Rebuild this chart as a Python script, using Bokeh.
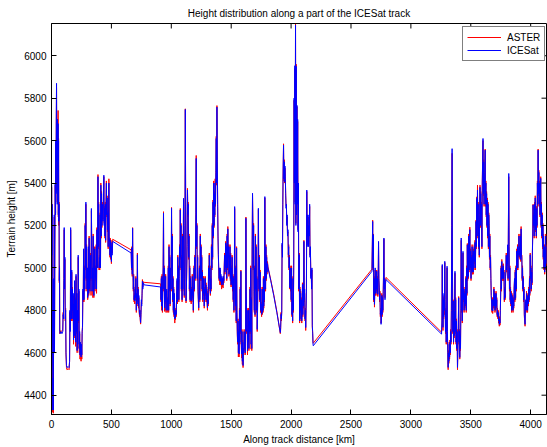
from bokeh.plotting import figure
from bokeh.models import Range1d, FixedTicker, Legend, LegendItem, ColumnDataSource
from bokeh.embed import file_html
from bokeh.resources import INLINE

# ---------------- data ----------------
distance_km = [
    0, 1, 3, 5, 7, 9, 11, 13, 15, 17,
    19, 21, 23, 25, 28, 31, 34, 36, 38, 40,
    42, 44, 46, 48, 50, 53, 55, 57, 59, 61,
    63, 65, 67, 69, 72, 79, 87, 94, 97, 100,
    103, 106, 109, 112, 115, 118, 121, 125, 129, 139,
    147, 151, 154, 157, 160, 163, 166, 169, 172, 175,
    178, 181, 184, 187, 190, 193, 196, 199, 202, 205,
    208, 211, 214, 217, 220, 223, 226, 229, 232, 235,
    238, 241, 244, 247, 250, 253, 256, 259, 262, 265,
    268, 271, 275, 278, 281, 284, 287, 290, 293, 296,
    299, 302, 305, 308, 311, 314, 318, 321, 324, 327,
    330, 333, 336, 339, 342, 345, 348, 351, 354, 357,
    360, 363, 367, 370, 373, 376, 379, 382, 385, 388,
    391, 394, 397, 400, 403, 406, 409, 412, 415, 418,
    421, 424, 427, 430, 433, 437, 440, 443, 446, 449,
    452, 455, 458, 461, 464, 467, 470, 473, 476, 479,
    482, 485, 488, 491, 494, 497, 500, 503, 506, 511,
    665, 668, 671, 674, 677, 680, 683, 686, 689, 692,
    695, 698, 701, 704, 708, 711, 714, 717, 720, 723,
    726, 729, 732, 735, 738, 741, 744, 747, 750, 753,
    756, 759, 762, 767, 773,
    911, 914, 917, 920, 923, 926, 929, 932, 935, 938,
    941, 944, 947, 950, 953, 956, 959, 962, 966, 969,
    972, 975, 978, 981, 984, 987, 990, 993, 996, 999,
    1002, 1005, 1008, 1011, 1014, 1017, 1020, 1023, 1026, 1029,
    1032, 1035, 1038, 1041, 1044, 1048, 1051, 1054, 1057, 1060,
    1063, 1066, 1069, 1072, 1075, 1078, 1081, 1084, 1087, 1090,
    1093, 1096, 1099, 1102, 1105, 1108, 1111, 1114, 1117, 1120,
    1123, 1126, 1129, 1132, 1135, 1138, 1141, 1145, 1148, 1151,
    1154, 1157, 1160, 1163, 1166, 1169, 1172, 1175, 1178, 1181,
    1184, 1187, 1190, 1193, 1196, 1199, 1202, 1205, 1208, 1211,
    1214, 1217, 1220, 1223, 1226, 1229, 1232, 1235, 1238, 1242,
    1245, 1248, 1251, 1254, 1257, 1260, 1263, 1266, 1269, 1272,
    1275, 1278, 1281, 1284, 1287, 1290, 1293, 1296, 1299, 1302,
    1305, 1308, 1311, 1314, 1317, 1320, 1323, 1326, 1329, 1332,
    1335, 1339, 1342, 1345, 1348, 1351, 1354, 1357, 1360, 1363,
    1366, 1369, 1372, 1375, 1378, 1381, 1384, 1387, 1390, 1393,
    1396, 1399, 1402, 1405, 1408, 1411, 1414, 1417, 1420, 1423,
    1426, 1429, 1432, 1436, 1439, 1442, 1445, 1448, 1451, 1454,
    1457, 1460, 1463, 1466, 1469, 1472, 1475, 1478, 1481, 1484,
    1487, 1490, 1493, 1496, 1499, 1502, 1505, 1508, 1511, 1514,
    1517, 1520, 1523, 1526, 1529, 1533, 1536, 1539, 1542, 1545,
    1548, 1551, 1554, 1557, 1560, 1563, 1566, 1569, 1572, 1575,
    1578, 1581, 1584, 1587, 1590, 1593, 1596, 1599, 1602, 1605,
    1608, 1611, 1614, 1617, 1620, 1623, 1626, 1630, 1633, 1636,
    1639, 1642, 1645, 1648, 1651, 1654, 1657, 1660, 1663, 1666,
    1669, 1672, 1675, 1678, 1681, 1684, 1687, 1690, 1693, 1696,
    1699, 1702, 1705, 1708, 1711, 1714, 1717, 1720, 1724, 1727,
    1730, 1733, 1736, 1739, 1742, 1745, 1748, 1751, 1754, 1757,
    1760, 1763, 1766, 1769, 1772, 1775, 1778, 1781, 1784, 1787,
    1790, 1793, 1796, 1799, 1803, 1807, 1830, 1855, 1881, 1910,
    1913, 1916, 1919, 1922, 1925, 1928, 1931, 1934, 1937, 1940,
    1943, 1946, 1949, 1952, 1955, 1958, 1961, 1964, 1967, 1970,
    1974, 1977, 1980, 1983, 1986, 1989, 1992, 1995, 1998, 2001,
    2004, 2007, 2010, 2013, 2016, 2019, 2022, 2025, 2028, 2031,
    2034, 2037, 2040, 2043, 2046, 2049, 2052, 2055, 2058, 2061,
    2064, 2068, 2071, 2074, 2077, 2080, 2083, 2086, 2089, 2092,
    2095, 2098, 2101, 2104, 2107, 2110, 2113, 2116, 2119, 2122,
    2125, 2128, 2131, 2134, 2137, 2140, 2143, 2146, 2149, 2152,
    2155, 2158, 2161, 2165, 2168, 2171, 2174, 2177, 2180, 2183,
    2185,
    2675, 2678, 2681, 2684, 2687, 2690, 2693, 2696, 2699, 2702,
    2705, 2709, 2712, 2715, 2718, 2721, 2724, 2727, 2730, 2733,
    2736, 2739, 2742, 2745, 2748, 2751, 2754, 2757, 2760, 2763,
    2766, 2769, 2772, 2775, 2778, 2781, 2784, 2787, 2792,
    3256, 3259, 3262, 3265, 3268, 3271, 3274, 3277, 3280, 3283,
    3286, 3289, 3292, 3295, 3298, 3302, 3305, 3308, 3311, 3314,
    3317, 3320, 3323, 3326, 3329, 3332, 3335, 3338, 3341, 3344,
    3347, 3350, 3353, 3356, 3359, 3362, 3365, 3368, 3371, 3374,
    3377, 3380, 3383, 3386, 3389, 3392, 3395, 3399, 3402, 3405,
    3408, 3411, 3414, 3417, 3420, 3423, 3426, 3429, 3432, 3435,
    3438, 3441, 3444, 3447, 3450, 3453, 3456, 3459, 3462, 3465,
    3468, 3471, 3474, 3477, 3480, 3483, 3486, 3489, 3492, 3496,
    3499, 3502, 3505, 3508, 3511, 3514, 3517, 3520, 3523, 3526,
    3529, 3532, 3535, 3538, 3541, 3544, 3547, 3550, 3553, 3556,
    3559, 3562, 3565, 3568, 3571, 3574, 3577, 3580, 3583, 3586,
    3589, 3593, 3596, 3599, 3602, 3605, 3608, 3611, 3614, 3617,
    3620, 3623, 3626, 3629, 3632, 3635, 3638, 3641, 3644, 3647,
    3650, 3653, 3656, 3659, 3662, 3665, 3668, 3671, 3674, 3677,
    3680, 3683, 3686, 3690, 3693, 3696, 3699, 3702, 3705, 3708,
    3711, 3714, 3717, 3720, 3723, 3726, 3729, 3732, 3735, 3738,
    3741, 3744, 3747, 3750, 3753, 3756, 3759, 3762, 3765, 3768,
    3771, 3774, 3777, 3780, 3783, 3787, 3790, 3793, 3796, 3799,
    3802, 3805, 3808, 3811, 3814, 3817, 3820, 3823, 3826, 3829,
    3832, 3835, 3838, 3841, 3844, 3847, 3850, 3853, 3856, 3859,
    3862, 3865, 3868, 3871, 3874, 3877, 3880, 3884, 3887, 3890,
    3893, 3896, 3899, 3902, 3905, 3908, 3911, 3914, 3917, 3920,
    3923, 3926, 3929, 3932, 3935, 3938, 3941, 3944, 3947, 3950,
    3953, 3956, 3959, 3962, 3965, 3968, 3971, 3974, 3977, 3981,
    3984, 3987, 3990, 3993, 3996, 3999, 4002, 4005, 4008, 4011,
    4014, 4017, 4020, 4023, 4026, 4029, 4032, 4035, 4038, 4041,
    4044, 4047, 4050, 4053, 4056, 4059, 4062, 4065, 4068, 4071,
    4074, 4078, 4081, 4084, 4087, 4090, 4093, 4096, 4099, 4102,
    4105, 4108, 4111, 4114, 4117, 4120, 4123, 4126, 4129, 4132,
]

icesat_m = [
    5250, 5390, 5060, 5300, 4950, 4600, 4330, 4480, 4330, 4600,
    4950, 4700, 5250, 4600, 5100, 5400, 5250, 5600, 5350, 5700,
    5870, 5500, 5650, 5300, 5700, 5450, 5680, 5250, 5600, 5220,
    5300, 4940, 5000, 4700, 4690, 4700, 4690, 4700, 4780, 4760,
    4950, 5190, 4900, 5050, 4760, 4800, 4600, 4540, 4530, 4535,
    4530, 4560, 4800, 4700, 5190, 4900, 4760, 4990, 4760, 4900,
    4800, 4880, 4660, 4830, 4680, 4940, 4760, 4850, 4650, 4970,
    4700, 4880, 4610, 4800, 4640, 5060, 4750, 4900, 4620, 4700,
    4590, 4650, 4600, 4580, 4640, 4590, 4700, 4720, 4900, 4850,
    5090, 4850, 5000, 4900, 5200, 5000, 5310, 4950, 5100, 4900,
    5000, 4860, 4880, 5100, 4880, 5140, 4900, 5000, 4950, 5060,
    4890, 5280, 5100, 4950, 5000, 4890, 5150, 4900, 4870, 4950,
    5090, 4900, 5000, 4950, 5100, 4900, 5180, 5000, 5150, 5430,
    5100, 5300, 5000, 5050, 5000, 5250, 5000, 5390, 5150, 5350,
    5200, 5300, 5250, 5220, 5300, 5437, 5200, 5280, 5150, 5300,
    5130, 5300, 5400, 5250, 5330, 5180, 5260, 5100, 5200, 5400,
    5150, 5120, 5060, 5130, 5050, 5120, 5030, 5100, 5060, 5125,
    5070, 5000, 5094, 4970, 5187, 4990, 4900, 4960, 4850, 4870,
    4844, 4900, 4860, 4950, 4800, 4880, 4830, 5062, 4850, 4900,
    4820, 4870, 4800, 4781, 4800, 4760, 4742, 4780, 4850, 4820,
    4880, 4937, 4900, 4930, 4920,
    4910, 4850, 4950, 4820, 4960, 4800, 4900, 5000, 5258, 4900,
    5000, 4812, 4900, 4840, 4960, 4800, 4870, 4900, 4800, 4850,
    4840, 5000, 4800, 5100, 4900, 5050, 4830, 4950, 5000, 4900,
    5281, 5000, 5150, 4850, 4950, 4800, 4900, 4780, 4880, 4760,
    4790, 4765, 4800, 4780, 4850, 4950, 4840, 5050, 4900, 5000,
    4850, 4950, 5100, 5000, 5273, 5050, 5200, 4900, 5050, 4850,
    5150, 4900, 5000, 5328, 5000, 4870, 4950, 5200, 5747, 5300,
    4844, 4900, 5000, 5100, 5367, 5250, 5300, 5050, 5150, 4900,
    5000, 4850, 4950, 4900, 4844, 4900, 4850, 4960, 4870, 4900,
    4800, 4900, 5000, 4900, 5050, 4950, 5100, 5250, 5516, 5100,
    5200, 4950, 5050, 4900, 4850, 4812, 4900, 5000, 4850, 5150,
    4950, 5100, 4950, 5050, 4900, 4980, 4850, 4950, 4880, 4950,
    4820, 4900, 4850, 4950, 4880, 4920, 4850, 4900, 4840, 4812,
    4880, 4830, 5000, 4900, 5060, 4950, 5000, 4880, 4950, 4900,
    5100, 5000, 5200, 5050, 5310, 5150, 5400, 5200, 5350, 5250,
    5400, 5300, 5450, 5610, 5400, 5758, 5500, 5300, 5150, 5062,
    5000, 4950, 5000, 4940, 5000, 4937, 4970, 4940, 4920, 4960,
    4930, 4950, 4920, 4960, 4940, 5000, 5060, 4980, 5040, 5117,
    5000, 5100, 4950, 5150, 5000, 5184, 5050, 5100, 4970, 5060,
    4980, 5100, 4950, 5060, 4920, 5000, 4930, 5050, 4900, 4960,
    4850, 4950, 4800, 4900, 5289, 4900, 4820, 5000, 4750, 5094,
    4800, 4700, 4650, 4750, 4600, 4700, 4594, 4800, 4650, 4900,
    4700, 4984, 4650, 4594, 4700, 4560, 4650, 4540, 4620, 4600,
    4700, 4620, 4680, 4600, 4700, 5234, 4900, 4700, 4800, 4609,
    4700, 4650, 4800, 4620, 4750, 4700, 4900, 4700, 5000, 4640,
    4850, 4620, 5100, 5352, 5200, 5000, 5200, 4900, 4800, 5000,
    4780, 5150, 4900, 5100, 4800, 4950, 4710, 4800, 4950, 5281,
    5000, 4900, 5050, 4850, 4980, 4800, 4900, 4800, 4781, 4830,
    4790, 4900, 4800, 4950, 4820, 4900, 4850, 5336, 5000, 4900,
    5100, 4950, 5050, 4980, 5020, 5000, 4940, 4870, 4790, 4695,
    4720, 4781, 4760, 4790, 5117, 5050, 5300, 5480, 5578, 5420,
    5500, 5406, 5480, 5420, 5350, 5281, 5300, 5200, 5250, 5150,
    5180, 5062, 5100, 5000, 5050, 4906, 5000, 4900, 4950, 4850,
    5000, 4780, 4850, 4750, 4950, 4800, 5000, 5800, 5400, 5953,
    5300, 6145, 5200, 5950, 5250, 5766, 5300, 5700, 5170, 5400,
    4900, 5062, 4750, 4900, 4800, 4880, 4760, 4850, 4750, 4800,
    4922, 4780, 4900, 4820, 5125, 4850, 4900, 4760, 4800, 4719,
    4800, 4900, 5367, 5100, 5250, 5150, 5200, 5100, 5250, 5150,
    5300, 5050, 5100, 4950, 4992, 4900, 5000, 4727, 4700, 4641,
    4633,
    4984, 5100, 5219, 5000, 5156, 4850, 4950, 4828, 4900, 5000,
    4880, 4960, 4900, 4984, 4880, 4950, 4875, 4950, 5125, 4950,
    4906, 4850, 4880, 4781, 4800, 4734, 4760, 4870, 4780, 4860,
    4800, 4880, 4980, 5141, 4900, 4950, 4850, 4920, 4945,
    4688, 4750, 5016, 4800, 4720, 4850, 4770, 4880, 4800, 5031,
    4850, 4700, 4800, 4650, 4750, 5008, 4700, 4600, 4531, 4600,
    4560, 4640, 4580, 4650, 4600, 4700, 4650, 4800, 5200, 5562,
    5000, 4700, 4844, 4650, 4750, 4680, 4800, 4984, 4700, 4850,
    4650, 4750, 4620, 4700, 4531, 4600, 4700, 4859, 4650, 4703,
    4578, 4680, 4620, 4800, 5141, 4800, 4900, 4750, 4950, 5078,
    4850, 4900, 4800, 4880, 4820, 4900, 4830, 4950, 4800, 5000,
    4880, 5109, 4950, 5050, 4960, 5150, 4990, 5100, 5180, 5000,
    5080, 4950, 5050, 4990, 5100, 4980, 5060, 4980, 5080, 5000,
    5100, 5030, 5120, 5000, 5100, 5219, 5100, 5328, 5150, 5367,
    5200, 5300, 5100, 5200, 5060, 5250, 5380, 5200, 5350, 5250,
    5300, 5100, 5400, 5500, 5610, 5350, 5500, 5300, 5400, 5450,
    5555, 5300, 5400, 5250, 5350, 5200, 5320, 5150, 5300, 5100,
    5250, 5200, 5050, 5150, 5000, 5050, 4950, 4870, 4844, 4800,
    4850, 4797, 4850, 4820, 4900, 4820, 4880, 4800, 4870, 4810,
    4880, 4820, 4850, 4780, 4800, 4770, 4790, 4750, 4760, 4734,
    4760, 4740, 4800, 4900, 5000, 4900, 5030, 4950, 5000, 4950,
    5010, 4950, 4980, 4850, 4900, 4860, 4950, 4990, 5060, 4990,
    5050, 5020, 5109, 4950, 5200, 5445, 5100, 4900, 5000, 4850,
    4900, 4830, 4880, 4800, 4870, 4810, 4860, 4800, 4850, 4820,
    4900, 4950, 4850, 4980, 4860, 5000, 4900, 5080, 5000, 5100,
    5000, 5080, 5060, 5150, 5060, 5100, 5050, 5150, 5040, 5184,
    5060, 5050, 4950, 5000, 4900, 4950, 4850, 4900, 4780, 4760,
    4734, 4800, 4850, 4800, 4880, 4820, 4860, 4800, 4870, 4830,
    4900, 4850, 4950, 4880, 5062, 4950, 5000, 4900, 4980, 4930,
    5060, 5150, 5297, 5200, 5250, 5150, 5300, 5200, 5330, 5180,
    5250, 5150, 5280, 5200, 5400, 5300, 5555, 5350, 5450, 5300,
    5400, 5250, 5350, 5422, 5200, 5300, 5150, 5250, 5100, 5200,
    5050, 5150, 5000, 5100, 4980, 5080, 5000, 5150, 5020, 5100,
]

aster_m = [
    5250, 5380, 5078, 5300, 4960, 4620, 4320, 4490, 4315, 4600,
    4940, 4710, 5240, 4610, 5110, 5390, 5260, 5590, 5360, 5690,
    5850, 5510, 5660, 5310, 5700, 5460, 5742, 5240, 5610, 5200,
    5310, 4930, 5010, 4690, 4695, 4705, 4700, 4705, 4790, 4770,
    4940, 5180, 4910, 5040, 4750, 4810, 4590, 4530, 4520, 4525,
    4520, 4560, 4790, 4710, 5180, 4900, 4750, 4980, 4750, 4910,
    4790, 4870, 4640, 4830, 4670, 4930, 4750, 4860, 4630, 4960,
    4690, 4880, 4600, 4790, 4620, 5050, 4740, 4890, 4600, 4690,
    4570, 4640, 4580, 4560, 4630, 4570, 4690, 4730, 4890, 4840,
    5080, 4840, 5010, 4890, 5210, 4990, 5300, 4940, 5110, 4890,
    5000, 4850, 4870, 5090, 4870, 5150, 4890, 5010, 4940, 5070,
    4870, 5270, 5100, 4940, 4990, 4860, 5160, 4890, 4860, 4960,
    5100, 4890, 5010, 4940, 5110, 4880, 5190, 5000, 5160, 5440,
    5090, 5310, 4990, 5060, 4990, 5260, 5000, 5400, 5140, 5360,
    5190, 5310, 5240, 5230, 5290, 5430, 5210, 5290, 5140, 5310,
    5120, 5300, 5410, 5240, 5340, 5170, 5270, 5090, 5210, 5420,
    5140, 5130, 5050, 5140, 5040, 5130, 5020, 5110, 5070, 5135,
    5085, 4990, 5100, 4960, 5190, 4980, 4890, 4970, 4840, 4880,
    4830, 4910, 4850, 4960, 4790, 4870, 4820, 5070, 4840, 4910,
    4810, 4860, 4790, 4770, 4800, 4750, 4735, 4790, 4840, 4830,
    4870, 4945, 4910, 4935, 4932,
    4925, 4840, 4960, 4800, 4970, 4790, 4910, 5010, 5265, 4890,
    5010, 4795, 4900, 4830, 4970, 4790, 4880, 4890, 4790, 4860,
    4830, 5010, 4790, 5110, 4890, 5060, 4820, 4960, 5000, 4890,
    5285, 4990, 5160, 4840, 4960, 4790, 4910, 4770, 4870, 4740,
    4800, 4755, 4810, 4770, 4860, 4940, 4830, 5060, 4890, 5010,
    4840, 4960, 5110, 4990, 5280, 5040, 5210, 4890, 5060, 4840,
    5160, 4890, 5010, 5320, 5010, 4860, 4960, 5210, 5750, 5290,
    4835, 4910, 4990, 5110, 5375, 5240, 5310, 5040, 5160, 4890,
    5010, 4840, 4960, 4890, 4830, 4910, 4840, 4970, 4860, 4910,
    4790, 4910, 5010, 4890, 5060, 4940, 5110, 5260, 5530, 5090,
    5210, 4940, 5060, 4890, 4840, 4800, 4910, 5010, 4840, 5160,
    4940, 5110, 4940, 5060, 4890, 4990, 4840, 4960, 4870, 4960,
    4810, 4910, 4840, 4960, 4870, 4930, 4840, 4910, 4830, 4800,
    4890, 4820, 5010, 4890, 5070, 4940, 5010, 4870, 4960, 4890,
    5110, 4990, 5210, 5040, 5320, 5140, 5410, 5190, 5360, 5240,
    5420, 5290, 5460, 5620, 5390, 5765, 5510, 5290, 5140, 5050,
    4990, 4940, 4990, 4920, 4990, 4920, 4960, 4920, 4900, 4950,
    4910, 4940, 4905, 4950, 4930, 5010, 5070, 4970, 5050, 5125,
    4990, 5110, 4940, 5160, 4990, 5195, 5040, 5110, 4960, 5070,
    4970, 5110, 4940, 5070, 4910, 5010, 4920, 5060, 4890, 4970,
    4840, 4960, 4790, 4910, 5280, 4890, 4800, 5010, 4740, 5100,
    4790, 4680, 4640, 4760, 4580, 4710, 4580, 4810, 4640, 4910,
    4690, 4990, 4640, 4575, 4710, 4545, 4660, 4530, 4610, 4590,
    4710, 4610, 4690, 4590, 4710, 5240, 4890, 4690, 4810, 4590,
    4710, 4640, 4810, 4610, 4760, 4690, 4910, 4690, 5010, 4617,
    4860, 4610, 5110, 5345, 5210, 4990, 5210, 4890, 4790, 5010,
    4770, 5160, 4890, 5110, 4790, 4960, 4700, 4810, 4960, 5275,
    5010, 4890, 5060, 4840, 4990, 4790, 4910, 4790, 4770, 4840,
    4780, 4910, 4790, 4960, 4810, 4910, 4840, 5330, 5010, 4890,
    5110, 4940, 5060, 4970, 5030, 5005, 4945, 4875, 4795, 4690,
    4710, 4790, 4750, 4800, 5110, 5060, 5310, 5470, 5585, 5410,
    5510, 5400, 5470, 5430, 5340, 5295, 5290, 5210, 5240, 5160,
    5170, 5050, 5110, 4990, 5060, 4900, 5010, 4890, 4960, 4840,
    5010, 4770, 4860, 4740, 4960, 4790, 5010, 5790, 5410, 5940,
    5310, 6150, 5210, 5960, 5266, 5760, 5310, 5690, 5180, 5390,
    4890, 5070, 4740, 4910, 4790, 4890, 4750, 4860, 4740, 4810,
    4930, 4770, 4910, 4810, 5130, 4840, 4880, 4750, 4810, 4705,
    4810, 4890, 5360, 5110, 5240, 5160, 5190, 5110, 5240, 5160,
    5290, 5060, 5090, 4960, 4985, 4910, 4990, 4720, 4690, 4650,
    4645,
    4994, 5110, 5225, 4990, 5160, 4840, 4960, 4815, 4910, 4990,
    4870, 4970, 4890, 4990, 4870, 4960, 4865, 4960, 5120, 4940,
    4910, 4840, 4890, 4770, 4810, 4740, 4750, 4880, 4770, 4870,
    4790, 4890, 4970, 5135, 4910, 4940, 4860, 4930, 4955,
    4697, 4740, 5010, 4790, 4705, 4860, 4760, 4870, 4780, 5025,
    4840, 4690, 4810, 4640, 4760, 5000, 4690, 4590, 4520, 4610,
    4550, 4650, 4570, 4660, 4590, 4710, 4640, 4810, 5190, 5540,
    5010, 4690, 4850, 4640, 4760, 4670, 4810, 4975, 4690, 4860,
    4640, 4760, 4610, 4710, 4520, 4610, 4690, 4865, 4640, 4710,
    4570, 4690, 4610, 4810, 5130, 4790, 4910, 4740, 4960, 5070,
    4840, 4910, 4790, 4890, 4810, 4910, 4820, 4960, 4790, 5010,
    4870, 5115, 4940, 5060, 4950, 5160, 4980, 5110, 5192, 4990,
    5090, 4940, 5060, 4980, 5110, 4970, 5070, 4970, 5090, 4990,
    5110, 5020, 5130, 4990, 5110, 5225, 5090, 5335, 5140, 5390,
    5190, 5310, 5090, 5210, 5050, 5245, 5390, 5190, 5360, 5240,
    5310, 5090, 5410, 5510, 5600, 5340, 5510, 5290, 5410, 5460,
    5560, 5290, 5410, 5240, 5360, 5190, 5330, 5140, 5310, 5090,
    5260, 5210, 5040, 5160, 4990, 5060, 4940, 4860, 4835, 4790,
    4860, 4785, 4860, 4810, 4910, 4810, 4890, 4790, 4880, 4800,
    4890, 4810, 4860, 4770, 4810, 4760, 4800, 4740, 4770, 4725,
    4770, 4730, 4810, 4890, 5010, 4890, 5040, 4940, 5010, 4940,
    5020, 4940, 4990, 4840, 4910, 4850, 4960, 4980, 5070, 4980,
    5060, 5010, 5100, 4940, 5190, 5430, 5110, 4890, 5010, 4840,
    4910, 4820, 4890, 4790, 4880, 4800, 4870, 4790, 4860, 4810,
    4910, 4940, 4840, 4990, 4850, 5010, 4890, 5090, 4990, 5110,
    4990, 5090, 5050, 5160, 5050, 5110, 5040, 5160, 5030, 5195,
    5050, 5060, 4940, 5010, 4890, 4960, 4840, 4910, 4770, 4750,
    4725, 4810, 4840, 4790, 4890, 4810, 4870, 4790, 4880, 4820,
    4910, 4840, 4960, 4870, 5070, 4940, 5010, 4890, 4990, 4920,
    5070, 5160, 5300, 5190, 5260, 5140, 5310, 5190, 5340, 5170,
    5260, 5140, 5290, 5190, 5410, 5290, 5560, 5340, 5460, 5290,
    5410, 5240, 5360, 5430, 5190, 5310, 5140, 5260, 5090, 5210,
    5040, 5160, 4990, 5110, 4970, 5090, 4990, 5160, 5010, 5110,
]

x_ticks = [0, 500, 1000, 1500, 2000, 2500, 3000, 3500, 4000]
y_ticks = [4400, 4600, 4800, 5000, 5200, 5400, 5600, 5800, 6000]
x_limits = [0, 4132]
y_limits = [4309, 6152]
series_names = ["ASTER", "ICESat"]
series_colors = ["#ff0000", "#0000ff"]

# ---------------- figure ----------------
FONT = "Liberation Sans"
FRAME_W, FRAME_H = 495, 392
p = figure(width=547, height=447, output_backend="svg", toolbar_location=None,
           x_range=Range1d(*x_limits), y_range=Range1d(*y_limits),
           min_border_left=51, min_border_right=1, min_border_top=23,
           min_border_bottom=32,
           title="Height distribution along a part of the ICESat track")
p.background_fill_color = "white"
p.border_fill_color = "white"
p.outline_line_color = "black"
p.outline_line_width = 1
p.grid.visible = False

p.title.text_font = FONT
p.title.text_font_size = "10px"
p.title.text_font_style = "normal"
p.title.align = "center"
p.title.text_color = "black"

src = ColumnDataSource(dict(d=distance_km, aster=aster_m, ice=icesat_m))
r_aster = p.line("d", "aster", source=src, line_color=series_colors[0], line_width=1)
r_ice = p.line("d", "ice", source=src, line_color=series_colors[1], line_width=1)


def style_axis(ax, ticks):
    ax.ticker = FixedTicker(ticks=ticks)
    ax.axis_line_color = "black"
    ax.major_tick_line_color = "black"
    ax.major_tick_in = 5
    ax.major_tick_out = 0
    ax.minor_tick_in = 0
    ax.minor_tick_out = 0
    ax.major_label_text_font = FONT
    ax.major_label_text_color = "black"
    ax.major_label_text_font_size = "10px"
    ax.major_label_standoff = 5
    ax.axis_label_text_font = FONT
    ax.axis_label_text_font_size = "10px"
    ax.axis_label_text_font_style = "normal"
    ax.axis_label_text_color = "black"


style_axis(p.xaxis[0], x_ticks)
style_axis(p.yaxis[0], y_ticks)
p.xaxis[0].axis_label = "Along track distance [km]"
p.xaxis[0].axis_label_standoff = 3
p.yaxis[0].axis_label = "Terrain height [m]"
p.yaxis[0].axis_label_standoff = 4

# inward tick marks on the top and right edges of the box (MATLAB style)
tick_dy = 5 * (y_limits[1] - y_limits[0]) / FRAME_H
tick_dx = 5 * (x_limits[1] - x_limits[0]) / FRAME_W
p.segment(x0=x_ticks, y0=[y_limits[1]] * len(x_ticks),
          x1=x_ticks, y1=[y_limits[1] - tick_dy] * len(x_ticks),
          line_color="black", line_width=1)
p.segment(x0=[x_limits[1]] * len(y_ticks), y0=y_ticks,
          x1=[x_limits[1] - tick_dx] * len(y_ticks), y1=y_ticks,
          line_color="black", line_width=1)

legend = Legend(items=[LegendItem(label=series_names[0], renderers=[r_aster]),
                       LegendItem(label=series_names[1], renderers=[r_ice])],
                location=(411, 353))
legend.border_line_color = "black"
legend.border_line_width = 1
legend.background_fill_color = "white"
legend.background_fill_alpha = 1
legend.label_text_font = FONT
legend.label_text_font_size = "10px"
legend.label_text_color = "black"
legend.glyph_width = 34
legend.glyph_height = 12
legend.label_height = 12
legend.label_standoff = 6
legend.spacing = 1
legend.padding = 4
legend.margin = 0
p.add_layout(legend)

open("out.html", "w").write(file_html(p, INLINE))
